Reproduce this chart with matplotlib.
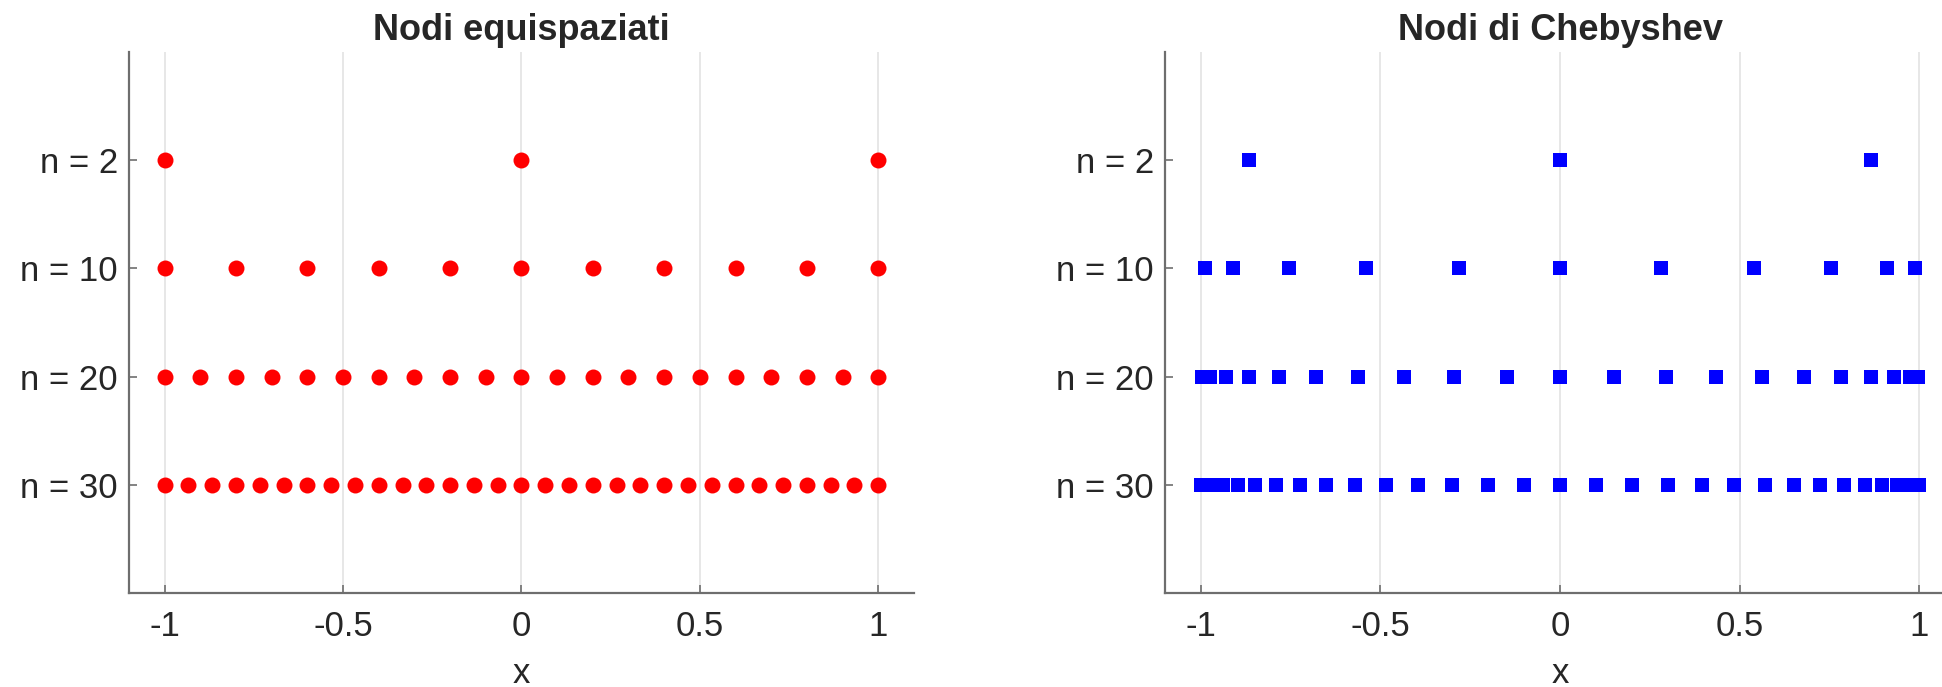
import matplotlib.pyplot as plt

plt.rcParams['font.family'] = ['Liberation Sans', 'DejaVu Sans']

# livelli (dall'alto in basso)
levels = ["n = 2", "n = 10", "n = 20", "n = 30"]

equi_2 = [-1, 0, 1]
equi_10 = [-1, -0.8, -0.6, -0.4, -0.2, 0, 0.2, 0.4, 0.6, 0.8, 1]
equi_20 = [-1, -0.9, -0.8, -0.7, -0.6, -0.5, -0.4, -0.3, -0.2, -0.1, 0,
           0.1, 0.2, 0.3, 0.4, 0.5, 0.6, 0.7, 0.8, 0.9, 1]
equi_30 = [-1, -0.9333, -0.8667, -0.8, -0.7333, -0.6667, -0.6, -0.5333,
           -0.4667, -0.4, -0.3333, -0.2667, -0.2, -0.1333, -0.0667, 0,
           0.0667, 0.1333, 0.2, 0.2667, 0.3333, 0.4, 0.4667, 0.5333,
           0.6, 0.6667, 0.7333, 0.8, 0.8667, 0.9333, 1]

cheb_2 = [-0.866, 0, 0.866]
cheb_10 = [-0.9898, -0.9096, -0.7557, -0.5406, -0.2817, 0,
           0.2817, 0.5406, 0.7557, 0.9096, 0.9898]
cheb_20 = [-0.9972, -0.9749, -0.9309, -0.8660, -0.7818, -0.6802, -0.5633,
           -0.4339, -0.2948, -0.1490, 0, 0.1490, 0.2948, 0.4339, 0.5633,
           0.6802, 0.7818, 0.8660, 0.9309, 0.9749, 0.9972]
cheb_30 = [-0.9987, -0.9885, -0.9681, -0.9378, -0.8978, -0.8486, -0.7907,
           -0.7248, -0.6514, -0.5712, -0.4853, -0.3944, -0.2994, -0.2013,
           -0.1012, 0, 0.1012, 0.2013, 0.2994, 0.3944, 0.4853, 0.5712,
           0.6514, 0.7248, 0.7907, 0.8486, 0.8978, 0.9378, 0.9681, 0.9885,
           0.9987]

equi = [equi_2, equi_10, equi_20, equi_30]
cheb = [cheb_2, cheb_10, cheb_20, cheb_30]

xticks = [-1, -0.5, 0, 0.5, 1]
xticklabels = ["-1", "-0.5", "0", "0.5", "1"]

fig = plt.figure(figsize=(19.42, 6.87), dpi=100)
ax1 = fig.add_axes([0.0664, 0.1368, 0.4042, 0.7875])
ax2 = fig.add_axes([0.5999, 0.1368, 0.4068, 0.7875])

axcol = '#6e6e6e'
txtcol = '#262626'


def style(ax, title):
    ax.set_xlim(-1.1, 1.1)
    ax.set_ylim(5, 0)
    ax.set_yticks([1, 2, 3, 4])
    ax.set_yticklabels(levels)
    ax.set_xticks(xticks)
    ax.set_xticklabels(xticklabels)
    ax.spines['top'].set_visible(False)
    ax.spines['right'].set_visible(False)
    for s in ['left', 'bottom']:
        ax.spines[s].set_color(axcol)
        ax.spines[s].set_linewidth(1.6)
    ax.tick_params(direction='in', length=6, width=1.2, color=axcol,
                   labelsize=25, labelcolor=txtcol)
    ax.tick_params(axis='x', pad=12)
    ax.tick_params(axis='y', pad=8)
    ax.grid(axis='x', color='#e3e3e3', linewidth=1.2)
    ax.set_axisbelow(True)
    ax.set_xlabel('x', fontsize=25, color=txtcol, labelpad=10)
    ax.set_title(title, fontsize=26, fontweight='bold', color=txtcol, pad=9)


for i, xs in enumerate(equi):
    ax1.plot(xs, [i + 1] * len(xs), 'o', color='#ff0000', markersize=11.5,
             markeredgewidth=0, clip_on=False)
for i, xs in enumerate(cheb):
    ax2.plot(xs, [i + 1] * len(xs), 's', color='#0000ff', markersize=9.5,
             markeredgewidth=0, clip_on=False)

style(ax1, 'Nodi equispaziati')
style(ax2, 'Nodi di Chebyshev')

fig.savefig('out.png', dpi=100)
